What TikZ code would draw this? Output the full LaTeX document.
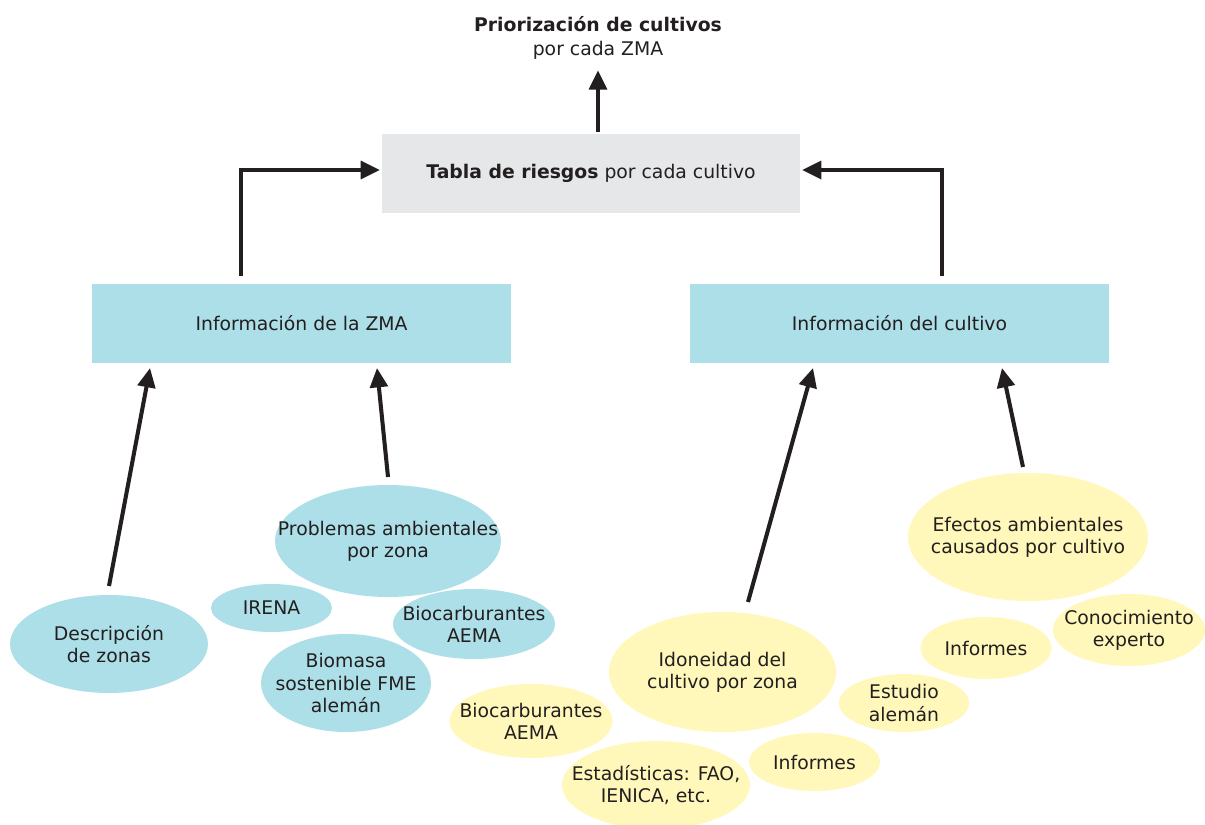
\documentclass[tikz,border=0pt]{standalone}
\usepackage{fontspec}
\setmainfont{DejaVu Sans}
\usetikzlibrary{shapes.geometric,arrows.meta}
\definecolor{zmablue}{RGB}{173,223,232}
\definecolor{cultivoyellow}{RGB}{255,248,186}
\definecolor{tablagray}{RGB}{230,231,232}
\definecolor{inktext}{RGB}{35,31,32}
\tikzstyle{every path}=[line width=2.3pt]
\tikzstyle{arrowline}=[draw=inktext, -{Triangle[length=11pt,width=10pt]}]
\tikzstyle{infobox}=[rectangle, minimum width=8.4cm, minimum height=1.58cm, inner sep=0pt, text=inktext]
\tikzstyle{every label}=[align=center, text=inktext]
\tikzstyle{zmabubble}=[ellipse, fill=zmablue, inner sep=0pt]
\tikzstyle{cultivobubble}=[ellipse, fill=cultivoyellow, inner sep=0pt]

\begin{document}
\begin{tikzpicture}[x=0.02cm, y=-0.02cm, font=\fontsize{10.7}{12.6}\selectfont]
            \path[use as bounding box, fill=white] (0,0) rectangle (1205,825);
            % top: result and table
            \node[align=center, inner sep=5pt, text=inktext] (title) at (598,38) {\textbf{Priorización de cultivos}\\[1pt]por cada ZMA};
            \node[infobox, fill=tablagray, minimum width=8.36cm] (tabla) at (591,173.5) {\textbf{Tabla de riesgos} por cada cultivo};
            \node[infobox, fill=zmablue] (infozma) at (301.5,323.5) {Información de la ZMA};
            \node[infobox, fill=zmablue, minimum width=8.38cm] (infocultivo) at (899.5,323.5) {Información del cultivo};
            % zone bubbles
            \node[zmabubble, minimum width=3.96cm, minimum height=1.96cm, label=center:{Descripción\\de zonas}] (descripcion) at (109,644) {};
            \node[zmabubble, minimum width=4.52cm, minimum height=2.24cm, label=center:{Problemas ambientales\\por zona}] (problemas) at (388,541) {};
            \node[zmabubble, minimum width=2.42cm, minimum height=0.96cm, label=center:{IRENA}] (irena) at (271.5,608) {};
            \node[zmabubble, minimum width=3.24cm, minimum height=1.40cm, label=center:{Biocarburantes\\AEMA}] (biocazul) at (474,624) {};
            \node[zmabubble, minimum width=3.40cm, minimum height=1.96cm, label=center:{Biomasa\\sostenible FME\\alemán}] (biomasa) at (346,683) {};
            % crop bubbles
            \node[cultivobubble, minimum width=3.26cm, minimum height=1.48cm, label=center:{Biocarburantes\\AEMA}] (biocamarillo) at (531,721) {};
            \node[cultivobubble, minimum width=4.54cm, minimum height=2.40cm, label=center:{Idoneidad del\\cultivo por zona}] (idoneidad) at (722.5,672) {};
            \node[cultivobubble, minimum width=3.76cm, minimum height=1.76cm, label=center:{Estadísticas: FAO,\\IENICA, etc.}] (estadisticas) at (656,785) {};
            \node[cultivobubble, minimum width=2.62cm, minimum height=1.16cm, label=center:{Informes}] (informesbajo) at (814.5,762) {};
            \node[cultivobubble, minimum width=2.60cm, minimum height=1.16cm, label=center:{Estudio\\alemán}] (estudio) at (904,703) {};
            \node[cultivobubble, minimum width=2.62cm, minimum height=1.24cm, label=center:{Informes}] (informesalto) at (986,648) {};
            \node[cultivobubble, minimum width=3.04cm, minimum height=1.44cm, label=center:{Conocimiento\\experto}] (conocimiento) at (1129,630) {};
            \node[cultivobubble, minimum width=4.80cm, minimum height=2.56cm, label=center:{Efectos ambientales\\causados por cultivo}] (efectos) at (1028,537) {};
            % arrows
            \draw[arrowline] (title.south |- tabla.north) -- (title.south);
            \draw[arrowline] ([xshift=-1.21cm, yshift=0.12cm]infozma.north) |- ([yshift=0.07cm]tabla.west);
            \draw[arrowline] ([xshift=0.85cm, yshift=0.12cm]infocultivo.north) |- ([yshift=0.07cm]tabla.east);
            \draw[arrowline] ([yshift=0.14cm]descripcion.north) -- ([xshift=-3.03cm, yshift=-0.06cm]infozma.south);
            \draw[arrowline] ([yshift=0.12cm]problemas.north) -- ([xshift=1.51cm, yshift=-0.06cm]infozma.south);
            \draw[arrowline] ([xshift=0.51cm, yshift=0.16cm]idoneidad.north) -- ([xshift=-1.73cm, yshift=-0.06cm]infocultivo.south);
            \draw[arrowline] ([xshift=-0.1cm, yshift=0.08cm]efectos.north) -- ([xshift=2.05cm, yshift=-0.06cm]infocultivo.south);
        \end{tikzpicture}
\end{document}
